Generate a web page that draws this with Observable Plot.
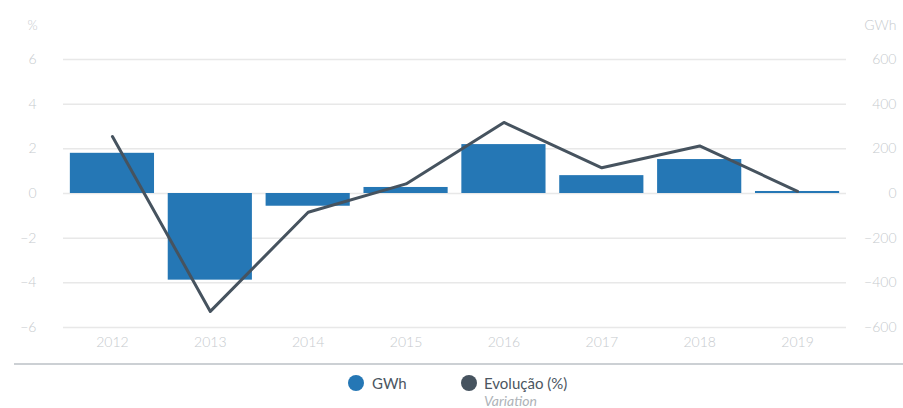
<!DOCTYPE html>
<html>
<head>
<meta charset="utf-8">
<script src="https://cdn.jsdelivr.net/npm/d3@7"></script>
<script src="https://cdn.jsdelivr.net/npm/@observablehq/plot@0.6"></script>
<style>
  body { margin: 0; background: #fff; font-family: Lato, "Open Sans", sans-serif; }
  #wrap { position: relative; width: 903px; height: 408px; overflow: hidden; }
  #chart { position: absolute; left: 0; top: 0; }
  #sep { position: absolute; left: 14px; right: 0; top: 363px; height: 2px; background: #ccd0d4; }
  .leg { position: absolute; font-size: 15px; color: #4b5661; line-height: 18px; }
  .dot { position: absolute; width: 16px; height: 16px; border-radius: 50%; }
  .sub { position: absolute; font-size: 14px; font-style: italic; color: #aeb3b8; line-height: 16px; }
  #chart text { font-weight: 300; }
</style>
</head>
<body>
<div id="wrap">
  <div id="chart"></div>
  <div id="sep"></div>
  <div class="dot" style="left:348px;top:375px;background:#2577b5"></div>
  <div class="leg" style="left:372px;top:374px">GWh</div>
  <div class="dot" style="left:461px;top:375px;background:#46535f"></div>
  <div class="leg" style="left:484px;top:374px">Evolução (%)</div>
  <div class="sub" style="left:484px;top:393px">Variation</div>
</div>
<script>
const years = ["2012","2013","2014","2015","2016","2017","2018","2019"];
const gwh = [180, -388, -57, 27, 219, 80, 152, 9];
const pct = [2.55, -5.28, -0.84, 0.43, 3.18, 1.15, 2.13, 0.1];
const pctTicks = [-6, -4, -2, 0, 2, 4, 6];

const data = years.map((y, i) => ({year: y, gwh: gwh[i], pct: pct[i]}));

const tickColor = "#c6cace";

const chart = Plot.plot({
  width: 903,
  height: 362,
  marginTop: 59,
  marginBottom: 35,
  marginLeft: 63,
  marginRight: 57,
  style: {fontFamily: "Lato, 'Open Sans', sans-serif", fontSize: "14px", background: "transparent"},
  x: {domain: years, paddingInner: 0.14, paddingOuter: 0.07, round: false},
  y: {domain: [-6, 6]},
  marks: [
    Plot.ruleY(pctTicks, {stroke: "#e8e8e8", strokeWidth: 1.5}),
    Plot.barY(data, {x: "year", y: d => d.gwh / 100, fill: "#2577b5"}),
    Plot.lineY(data, {x: "year", y: "pct", stroke: "#46535f", strokeWidth: 3}),
    Plot.axisX({tickSize: 0, tickPadding: 10, color: tickColor, label: null, fontSize: 14}),
    Plot.axisY(pctTicks, {anchor: "left", tickSize: 0, tickPadding: 27, color: tickColor, label: null, fontSize: 14}),
    Plot.axisY(pctTicks, {anchor: "right", tickSize: 0, tickPadding: 50, textAnchor: "end",
      tickFormat: d => d3.format("")(d * 100).replace("-", "\u2212"), color: tickColor, label: null, fontSize: 14}),
    Plot.text(["%"], {frameAnchor: "top-left", textAnchor: "middle", dx: -31, dy: -39, fill: tickColor, fontSize: 13}),
    Plot.text(["GWh"], {frameAnchor: "top-right", dx: 50, dy: -39, textAnchor: "end", fill: tickColor, fontSize: 14})
  ]
});
document.getElementById("chart").appendChild(chart);
</script>
</body>
</html>
